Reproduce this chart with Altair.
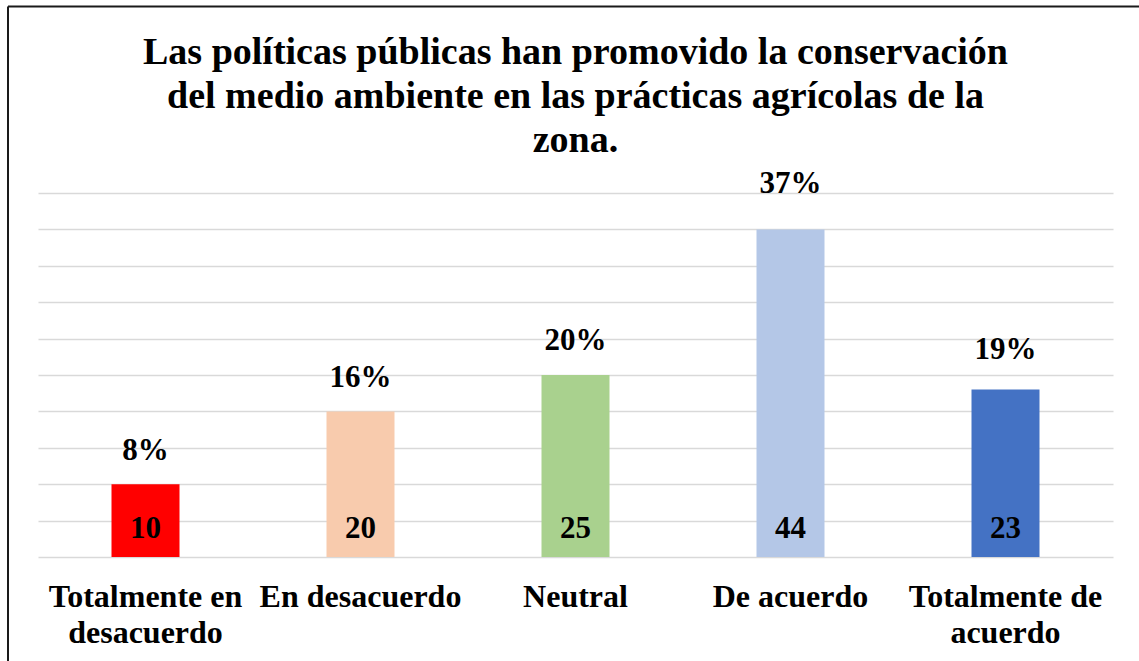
import altair as alt
import pandas as pd

# ---- data ----
categories = [
    "Totalmente en desacuerdo",
    "En desacuerdo",
    "Neutral",
    "De acuerdo",
    "Totalmente de acuerdo",
]
bar_heights = [10, 20, 25, 45, 23]      # bar heights as drawn
count_labels = [10, 20, 25, 44, 23]     # numbers printed inside the bars
percent_labels = [8, 16, 20, 37, 19]    # percentages printed above the bars
bar_colors = ["#FF0000", "#F8CBAD", "#A9D18E", "#B4C7E7", "#4472C4"]
title_lines = [
    "Las políticas públicas han promovido la conservación",
    "del medio ambiente en las prácticas agrícolas de la",
    "zona.",
]
grid_values = [0, 5, 10, 15, 20, 25, 30, 35, 40, 45, 50]

df = pd.DataFrame({
    "cat": categories,
    "bar": bar_heights,
    "n": [str(v) for v in count_labels],
    "pct": percent_labels,
    "pct_txt": [f"{p}%" for p in percent_labels],
    "color": bar_colors,
})

W, H = 1075, 364
FONT = "Liberation Serif"

label_expr = (
    "datum.value == 'Totalmente en desacuerdo' ? ['Totalmente en', 'desacuerdo'] : "
    "datum.value == 'Totalmente de acuerdo' ? ['Totalmente de', 'acuerdo'] : datum.label"
)

x_enc = alt.X(
    "cat:N",
    sort=categories,
    scale=alt.Scale(paddingInner=0, paddingOuter=0),
    axis=alt.Axis(
        title=None, domain=False, ticks=False, grid=False, labelAngle=0,
        labelFont=FONT, labelFontSize=32, labelFontWeight="bold", labelColor="black",
        labelPadding=49, labelBaseline="alphabetic", labelLineHeight=36,
        labelExpr=label_expr, labelLimit=0, labelOverlap=False, labelBound=False,
    ),
)

base = alt.Chart(df)

bars = base.mark_bar(size=68).encode(
    x=x_enc,
    y=alt.Y(
        "bar:Q",
        scale=alt.Scale(domain=[0, 50], nice=False, zero=True),
        axis=alt.Axis(
            title=None, labels=False, ticks=False, domain=False, grid=True,
            values=grid_values, gridColor="#D9D9D9", gridWidth=1.5,
        ),
    ),
    color=alt.Color("color:N", scale=None),
)

counts = base.mark_text(
    font=FONT, fontSize=31, fontWeight="bold", color="black",
    baseline="alphabetic", align="center", dy=-19,
).encode(
    x=alt.X("cat:N", sort=categories),
    y=alt.YDatum(0, type="quantitative", scale=alt.Scale(domain=[0, 50], nice=False), axis=None),
    text="n:N",
)

pcts = base.mark_text(
    font=FONT, fontSize=31, fontWeight="bold", color="black",
    baseline="alphabetic", align="center", dy=-23.4,
).encode(
    x=alt.X("cat:N", sort=categories),
    y=alt.Y("pct:Q", scale=alt.Scale(domain=[0, 39.6], nice=False, zero=True), axis=None),
    text="pct_txt:N",
)

title = alt.Chart(pd.DataFrame({"k": [0]})).mark_text(
    text=title_lines, font=FONT, fontSize=38, fontWeight="bold", color="black",
    align="center", baseline="alphabetic", lineHeight=44,
).encode(x=alt.value(W / 2), y=alt.value(-129.5))

border_top = alt.Chart(pd.DataFrame({"k": [0]})).mark_rule(
    color="#1a1a1a", strokeWidth=2
).encode(x=alt.value(-30), x2=alt.value(W + 40), y=alt.value(-186.5))

border_left = alt.Chart(pd.DataFrame({"k": [0]})).mark_rule(
    color="#1a1a1a", strokeWidth=2
).encode(x=alt.value(-30), y=alt.value(-186.5), y2=alt.value(H + 120))

chart = (
    alt.layer(bars, counts, pcts, title, border_top, border_left)
    .resolve_scale(y="independent")
    .properties(
        width=W, height=H,
        autosize=alt.AutoSizeParams(type="none"),
        padding={"left": 38, "top": 193, "right": 26, "bottom": 104},
        background="white",
    )
    .configure_view(stroke=None)
)

chart.save("out.html", embed_options={"renderer": "svg", "actions": False})
